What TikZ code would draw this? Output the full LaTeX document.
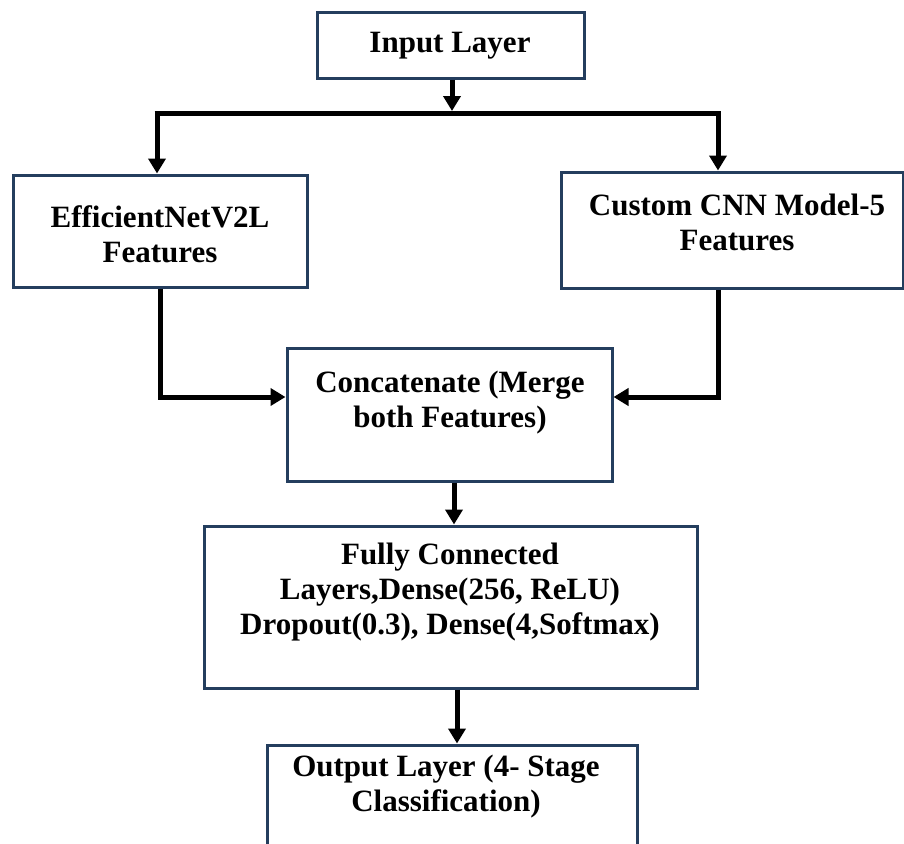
\documentclass[tikz,border=0pt]{standalone}
\usepackage{fontspec}
\setmainfont{Liberation Serif}
\usetikzlibrary{arrows.meta,calc}
\definecolor{boxblue}{RGB}{36,62,94}
\tikzset{
  box/.style={draw=boxblue, line width=3pt, rectangle, inner sep=0pt},
  lbl/.style={align=center, inner sep=0pt, font={\fontsize{31}{35}\selectfont\bfseries}},
  arr/.style={line width=5pt, -{Triangle[length=15pt,width=17pt]}},
  ln/.style={line width=5pt}
}
\begin{document}
\begin{tikzpicture}[x=1pt,y=-1pt]
\useasboundingbox (0,0) rectangle (904,843);
\clip (0,0) rectangle (904,843);
% boxes
\node[box, minimum width=267pt, minimum height=65pt] (inp) at (450.5,45.5) {};
\node[box, minimum width=294pt, minimum height=112pt] (eff) at (160,231) {};
\node[box, minimum width=342pt, minimum height=116pt] (cus) at (732,230) {};
\node[box, minimum width=325pt, minimum height=133pt] (cat) at (449.5,414.5) {};
\node[box, minimum width=493pt, minimum height=162pt] (fc) at (450.5,607) {};
\node[box, minimum width=370pt, minimum height=150pt] (out) at (452,820) {};
% labels
\node[lbl] (tinp) at (450,46) {Input Layer};
\node[lbl] (teff) at (160,234) {EfficientNetV2L\\Features};
\node[lbl] (tcus) at (737,222) {Custom CNN Model-5\\Features};
\node[lbl] (tcat) at (450,403) {Concatenate (Merge\\both Features)};
\node[lbl] (tfc) at (450,592) {Fully Connected\\Layers,Dense(256, ReLU)\\Dropout(0.3), Dense(4,Softmax)};
\node[lbl] (tout) at (446,787) {Output Layer (4- Stage\\Classification)};
% connectors
\coordinate (j) at (452,113);
\coordinate (jl) at (157,113);
\coordinate (jr) at (718,113);
\draw[arr] (inp.south -| j) -- ([yshift=2pt]j);
\draw[ln] ([xshift=-2.5pt]jl) -- ([xshift=2.5pt]jr);
\draw[arr] (jl) -- (jl |- eff.north);
\draw[arr] (jr) -- (jr |- cus.north);
\coordinate (cl) at (160,397);
\coordinate (cr) at (718,397);
\draw[arr] (eff.south -| cl) |- (cl -| cat.west);
\draw[arr] (cus.south -| cr) |- (cr -| cat.east);
\draw[arr] (cat.south -| 454,0) -- (fc.north -| 454,0);
\draw[arr] (fc.south -| 457,0) -- (out.north -| 457,0);
\end{tikzpicture}
\end{document}
